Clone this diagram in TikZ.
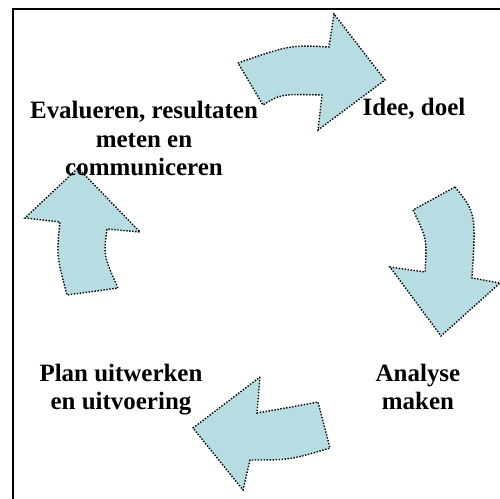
\documentclass[tikz,border=0pt]{standalone}
\usepackage{fontspec}
\setmainfont{Liberation Serif}
\usetikzlibrary{positioning}
\definecolor{pijlblauw}{RGB}{183,221,227}

\begin{document}
\begin{tikzpicture}[x=0.02cm, y=-0.02cm,
    pijl/.style={fill=pijlblauw, draw=black, line width=0.8pt, dash pattern=on 0.8pt off 0.9pt, line join=miter},
    stap/.style={align=center, anchor=base, inner sep=0pt, font=\bfseries\fontsize{14.2}{16.5}\selectfont}]
    \useasboundingbox (0,0) rectangle (500,499);

    % kader
    \draw[line width=1.1pt] (13,499) -- (13,9) -- (500,9);

    % pijlen
    \path[pijl] (238,63) .. controls (290,45) .. (329,47) -- (334,14) -- (385,80) -- (318,130) -- (322,95) .. controls (281,94) .. (263,105) -- cycle;
    \path[pijl] (455,187) .. controls (476,213) .. (472,278) -- (500,283) -- (441,336) -- (390,267) -- (425,272) .. controls (427,239) .. (413,210) -- cycle;
    \path[pijl] (260,377) -- (257,413) .. controls (286,408) .. (318,402) -- (330,448) .. controls (290,460) .. (250,460) -- (243,490) -- (193,428) -- cycle;
    \path[pijl] (78,168) -- (140,232) -- (107,229) .. controls (103.5,255.5) .. (118,288) -- (67,295) .. controls (56.5,255.5) .. (60,222) -- (25,218) -- cycle;

    % teksten
    \node (idee) [stap] at (414,116) {Idee, doel};
    \node (analyse) [stap] at (418,410) {Analyse\\maken};
    \node (plan) [stap] at (121,410) {Plan uitwerken\\en uitvoering};
    \node (evalueren) [stap] at (144,176) {Evalueren, resultaten\\meten en\\communiceren};
\end{tikzpicture}
\end{document}
